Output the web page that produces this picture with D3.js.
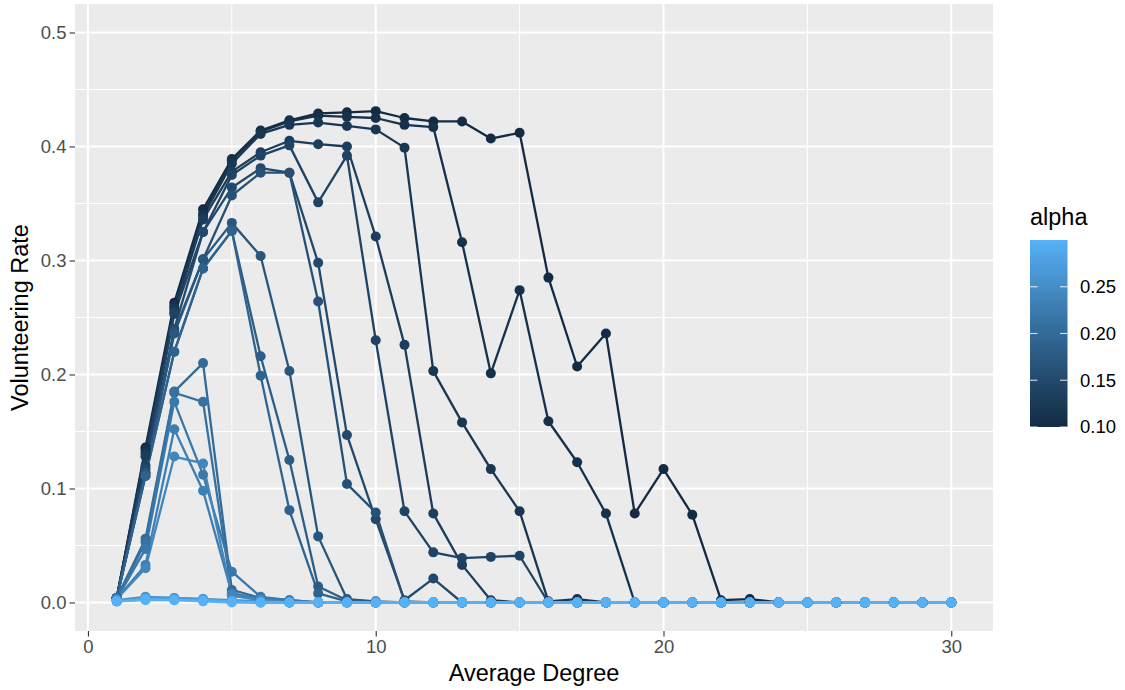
<!DOCTYPE html>
<html>
<head>
<meta charset="utf-8">
<script src="https://cdn.jsdelivr.net/npm/d3@7"></script>
<style>
  html, body { margin: 0; padding: 0; background: #fff; }
  svg { display: block; font-family: "Liberation Sans", Arial, Helvetica, sans-serif; }
</style>
</head>
<body>
<svg id="chart" width="1125" height="690"></svg>
<script>
// Average degree on the x axis, one row per alpha value.
const degree = [1, 2, 3, 4, 5, 6, 7, 8, 9, 10, 11, 12, 13, 14, 15,
                16, 17, 18, 19, 20, 21, 22, 23, 24, 25, 26, 27, 28, 29, 30];

const alphas = [0.10, 0.11, 0.12, 0.13, 0.14, 0.15, 0.16, 0.17, 0.18, 0.19, 0.20,
                0.21, 0.22, 0.23, 0.24, 0.25, 0.26, 0.27, 0.28, 0.29, 0.30];

// Volunteering rate per degree.
const rate010 = [.004, .136, .263, .345, .389, .414, .423, .429, .430, .431, .425, .422, .422, .407, .412, .285, .207, .236, .078, .117, .077, .002, .003, 0, 0, 0, 0, 0, 0, 0];
const rate011 = [.004, .134, .260, .341, .388, .413, .422, .427, .426, .425, .419, .417, .316, .201, .274, .159, .123, .078, 0, 0, 0, 0, 0, 0, 0, 0, 0, 0, 0, 0];
const rate012 = [.004, .131, .258, .339, .385, .411, .419, .421, .418, .415, .399, .203, .158, .117, .080, .001, .003, 0, 0, 0, 0, 0, 0, 0, 0, 0, 0, 0, 0, 0];
const rate013 = [.004, .128, .255, .336, .378, .395, .405, .402, .400, .321, .226, .078, .033, .002, 0, 0, 0, 0, 0, 0, 0, 0, 0, 0, 0, 0, 0, 0, 0, 0];
const rate014 = [.004, .120, .253, .325, .375, .392, .401, .351, .392, .230, .080, .044, .039, .040, .041, 0, 0, 0, 0, 0, 0, 0, 0, 0, 0, 0, 0, 0, 0, 0];
const rate015 = [.004, .117, .240, .325, .364, .381, .377, .298, .147, .073, .002, .021, 0, 0, 0, 0, 0, 0, 0, 0, 0, 0, 0, 0, 0, 0, 0, 0, 0, 0];
const rate016 = [.004, .114, .238, .301, .357, .377, .377, .264, .104, .079, .001, 0, 0, 0, 0, 0, 0, 0, 0, 0, 0, 0, 0, 0, 0, 0, 0, 0, 0, 0];
const rate017 = [.004, .113, .236, .301, .333, .304, .203, .058, .003, .001, 0, 0, 0, 0, 0, 0, 0, 0, 0, 0, 0, 0, 0, 0, 0, 0, 0, 0, 0, 0];
const rate018 = [.004, .111, .220, .293, .326, .216, .125, .014, .002, 0, 0, 0, 0, 0, 0, 0, 0, 0, 0, 0, 0, 0, 0, 0, 0, 0, 0, 0, 0, 0];
const rate019 = [.004, .111, .220, .293, .326, .199, .081, .008, .001, 0, 0, 0, 0, 0, 0, 0, 0, 0, 0, 0, 0, 0, 0, 0, 0, 0, 0, 0, 0, 0];
const rate020 = [.004, .056, .185, .210, .011, .004, .002, 0, 0, 0, 0, 0, 0, 0, 0, 0, 0, 0, 0, 0, 0, 0, 0, 0, 0, 0, 0, 0, 0, 0];
const rate021 = [.003, .053, .184, .176, .008, .003, .001, 0, 0, 0, 0, 0, 0, 0, 0, 0, 0, 0, 0, 0, 0, 0, 0, 0, 0, 0, 0, 0, 0, 0];
const rate022 = [.003, .047, .176, .112, .027, .005, .002, 0, 0, 0, 0, 0, 0, 0, 0, 0, 0, 0, 0, 0, 0, 0, 0, 0, 0, 0, 0, 0, 0, 0];
const rate023 = [.003, .033, .152, .098, .008, .003, .001, 0, 0, 0, 0, 0, 0, 0, 0, 0, 0, 0, 0, 0, 0, 0, 0, 0, 0, 0, 0, 0, 0, 0];
const rate024 = [.003, .030, .128, .122, .006, .002, 0, 0, 0, 0, 0, 0, 0, 0, 0, 0, 0, 0, 0, 0, 0, 0, 0, 0, 0, 0, 0, 0, 0, 0];
const rate025 = [.002, .005, .004, .003, .002, .001, 0, 0, 0, 0, 0, 0, 0, 0, 0, 0, 0, 0, 0, 0, 0, 0, 0, 0, 0, 0, 0, 0, 0, 0];
const rate026 = [.001, .004, .004, .003, .001, .001, 0, 0, 0, 0, 0, 0, 0, 0, 0, 0, 0, 0, 0, 0, 0, 0, 0, 0, 0, 0, 0, 0, 0, 0];
const rate027 = [.001, .004, .003, .002, .001, 0, 0, 0, 0, 0, 0, 0, 0, 0, 0, 0, 0, 0, 0, 0, 0, 0, 0, 0, 0, 0, 0, 0, 0, 0];
const rate028 = [.001, .003, .003, .002, .001, 0, 0, 0, 0, 0, 0, 0, 0, 0, 0, 0, 0, 0, 0, 0, 0, 0, 0, 0, 0, 0, 0, 0, 0, 0];
const rate029 = [.001, .003, .002, .002, .001, 0, 0, 0, 0, 0, 0, 0, 0, 0, 0, 0, 0, 0, 0, 0, 0, 0, 0, 0, 0, 0, 0, 0, 0, 0];
const rate030 = [.001, .002, .002, .001, 0, 0, 0, 0, 0, 0, 0, 0, 0, 0, 0, 0, 0, 0, 0, 0, 0, 0, 0, 0, 0, 0, 0, 0, 0, 0];

const xTicks = [0, 10, 20, 30];
const yTicks = [0, 0.1, 0.2, 0.3, 0.4, 0.5];
const legendTicks = [0.10, 0.15, 0.20, 0.25];

const rates = [rate010, rate011, rate012, rate013, rate014, rate015, rate016, rate017,
               rate018, rate019, rate020, rate021, rate022, rate023, rate024, rate025,
               rate026, rate027, rate028, rate029, rate030];

const series = alphas.map((a, i) => ({
  alpha: a,
  points: degree.map((d, j) => ({ x: d, y: rates[i][j] }))
}));

const svg = d3.select('#chart');

// panel box, ggplot grey theme
const P = { left: 75, top: 4, right: 993, bottom: 631 };

const x = d3.scaleLinear().domain([-0.45, 31.45]).range([P.left, P.right]);
const y = d3.scaleLinear().domain([-0.025, 0.525]).range([P.bottom, P.top]);
const colour = d3.scaleLinear().domain([0.10, 0.30])
  .range(['#132B43', '#56B1F7']).interpolate(d3.interpolateLab);

svg.append('rect')
  .attr('x', P.left).attr('y', P.top)
  .attr('width', P.right - P.left).attr('height', P.bottom - P.top)
  .attr('fill', '#EBEBEB');

// grid: minor first, major on top
const grid = svg.append('g');
const xMinor = [5, 15, 25];
const yMinor = [0.05, 0.15, 0.25, 0.35, 0.45];
grid.selectAll('.xm').data(xMinor).join('line')
  .attr('x1', d => x(d)).attr('x2', d => x(d))
  .attr('y1', P.top).attr('y2', P.bottom)
  .attr('stroke', '#fff').attr('stroke-width', 1);
grid.selectAll('.ym').data(yMinor).join('line')
  .attr('y1', d => y(d)).attr('y2', d => y(d))
  .attr('x1', P.left).attr('x2', P.right)
  .attr('stroke', '#fff').attr('stroke-width', 1);
grid.selectAll('.xM').data(xTicks).join('line')
  .attr('x1', d => x(d)).attr('x2', d => x(d))
  .attr('y1', P.top).attr('y2', P.bottom)
  .attr('stroke', '#fff').attr('stroke-width', 2);
grid.selectAll('.yM').data(yTicks).join('line')
  .attr('y1', d => y(d)).attr('y2', d => y(d))
  .attr('x1', P.left).attr('x2', P.right)
  .attr('stroke', '#fff').attr('stroke-width', 2);

// lines for every group, then points, like geom_line + geom_point
const line = d3.line().x(d => x(d.x)).y(d => y(d.y));
svg.append('g').selectAll('path').data(series).join('path')
  .attr('d', d => line(d.points))
  .attr('fill', 'none')
  .attr('stroke', d => colour(d.alpha))
  .attr('stroke-width', 2.3)
  .attr('stroke-linejoin', 'round');

const pts = svg.append('g');
series.forEach(s => {
  pts.append('g').selectAll('circle').data(s.points).join('circle')
    .attr('cx', d => x(d.x)).attr('cy', d => y(d.y))
    .attr('r', 5)
    .attr('fill', colour(s.alpha));
});

// axes
const xAxis = d3.axisBottom(x).tickValues(xTicks).tickSize(5.5).tickPadding(3);
const gx = svg.append('g').attr('transform', `translate(0,${P.bottom})`).call(xAxis);
const yAxis = d3.axisLeft(y).tickValues(yTicks).tickSize(5.5).tickPadding(3)
  .tickFormat(d3.format('.1f'));
const gy = svg.append('g').attr('transform', `translate(${P.left},0)`).call(yAxis);
[gx, gy].forEach(g => {
  g.select('.domain').remove();
  g.selectAll('.tick line').attr('stroke', '#333').attr('stroke-width', 1.1);
  g.selectAll('.tick text')
    .attr('fill', '#4D4D4D')
    .attr('font-size', 18.5)
    .attr('font-family', '"Liberation Sans", Arial, sans-serif');
});

svg.append('text')
  .attr('x', (P.left + P.right) / 2).attr('y', 681)
  .attr('text-anchor', 'middle')
  .attr('font-size', 23.5).attr('fill', '#000')
  .text('Average Degree');

svg.append('text')
  .attr('transform', `translate(28,${(P.top + P.bottom) / 2}) rotate(-90)`)
  .attr('text-anchor', 'middle')
  .attr('font-size', 23.5).attr('fill', '#000')
  .text('Volunteering Rate');

// colourbar legend
const L = { x: 1030, w: 37.5, top: 240, bottom: 427 };
const ly = d3.scaleLinear().domain([0.10, 0.30]).range([L.bottom, L.top]);
const defs = svg.append('defs');
const grad = defs.append('linearGradient').attr('id', 'cbar')
  .attr('x1', 0).attr('y1', 1).attr('x2', 0).attr('y2', 0);
d3.range(0, 1.0001, 0.05).forEach(t => {
  grad.append('stop').attr('offset', t).attr('stop-color', colour(0.10 + t * 0.20));
});

svg.append('text')
  .attr('x', L.x).attr('y', 225)
  .attr('font-size', 23.5).attr('fill', '#000')
  .text('alpha');

svg.append('rect')
  .attr('x', L.x).attr('y', L.top)
  .attr('width', L.w).attr('height', L.bottom - L.top)
  .attr('fill', 'url(#cbar)');

const lg = svg.append('g');
lg.selectAll('.tl').data(legendTicks).join('line')
  .attr('x1', L.x).attr('x2', L.x + L.w / 5)
  .attr('y1', d => ly(d)).attr('y2', d => ly(d))
  .attr('stroke', '#fff').attr('stroke-opacity', 0.8).attr('stroke-width', 1.1);
lg.selectAll('.tr').data(legendTicks).join('line')
  .attr('x1', L.x + L.w * 4 / 5).attr('x2', L.x + L.w)
  .attr('y1', d => ly(d)).attr('y2', d => ly(d))
  .attr('stroke', '#fff').attr('stroke-opacity', 0.8).attr('stroke-width', 1.1);
lg.selectAll('text').data(legendTicks).join('text')
  .attr('x', L.x + L.w + 12.5)
  .attr('y', d => ly(d))
  .attr('dy', '0.35em')
  .attr('font-size', 18.5).attr('fill', '#000')
  .text(d => d3.format('.2f')(d));
</script>
</body>
</html>
